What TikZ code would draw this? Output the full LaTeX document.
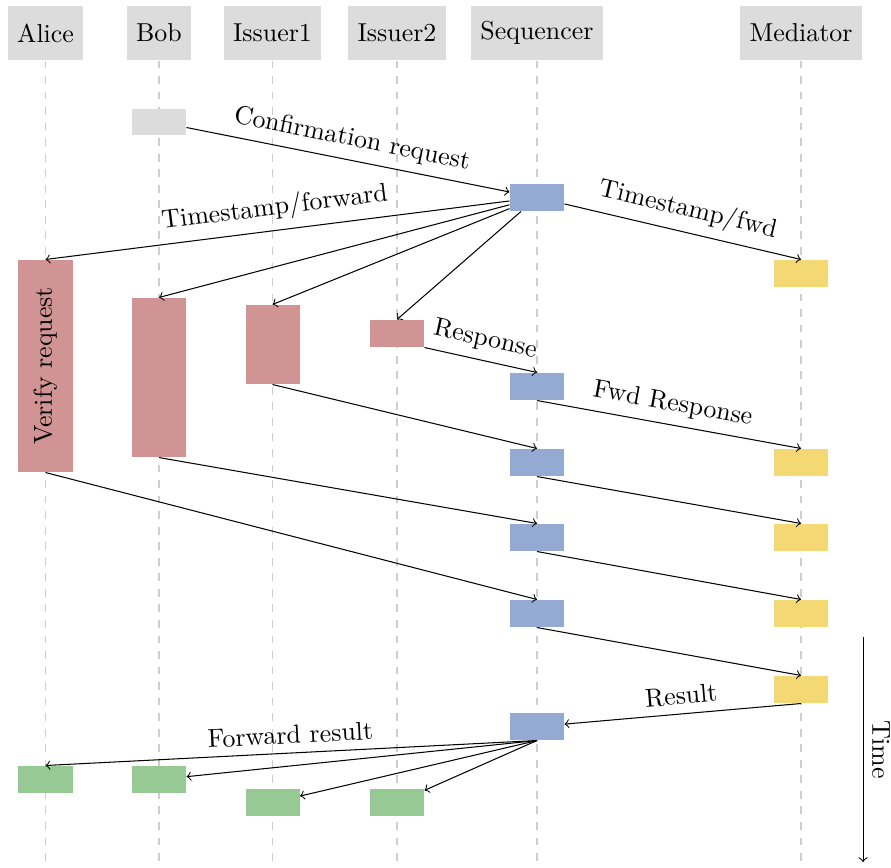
\documentclass[tikz,border=0pt]{standalone}
\definecolor{hdr}{RGB}{220,220,220}
\definecolor{cblue}{RGB}{149,170,210}
\definecolor{cred}{RGB}{209,148,148}
\definecolor{cyel}{RGB}{243,216,115}
\definecolor{cgrn}{RGB}{150,201,148}
\definecolor{lgray}{RGB}{205,205,205}
\begin{document}
\begin{tikzpicture}[x=0.3861pt,y=-0.3861pt,
  hdrbox/.style={fill=hdr, minimum height=20.85pt, inner xsep=3.7pt, inner ysep=0pt},
  lifeline/.style={draw=lgray, dashed, line width=0.55pt},
  act/.style={minimum width=20.85pt, minimum height=10.42pt, inner sep=0pt},
  gbox/.style={act, fill=hdr},
  sbox/.style={act, fill=cblue},
  rbox/.style={act, fill=cred},
  mbox/.style={act, fill=cyel},
  gnbox/.style={act, fill=cgrn},
  msg/.style={draw, ->},
  lbl/.style={above, sloped}
]
\useasboundingbox (0,0) rectangle (891,867);

% headers
\node[hdrbox] (hA) at (45.5,33) {Alice};
\node[hdrbox] (hB) at (159,33) {Bob};
\node[hdrbox] (hI) at (272.5,33) {Issuer1};
\node[hdrbox] (hJ) at (397,33) {Issuer2};
\node[hdrbox] (hS) at (537,33) {Sequencer};
\node[hdrbox] (hM) at (801,33) {Mediator};

% lifelines
\coordinate (bottom) at (0,867);
\foreach \n in {A,B,I,J,S,M}
  \draw[lifeline] (h\n.south) -- (h\n.south |- bottom);

% activation boxes
\node[gbox] (b0) at (159,122) {};
\node[sbox] (s1) at (537,197.5) {};
\node[mbox] (m1) at (801,273.5) {};
\node[rbox, minimum height=81.85pt] (ra) at (45.5,366) {};
\node[rotate=90] (vr) at (ra.center) {Verify request};
\node[rbox, minimum height=61.4pt] (rb) at (159,377.5) {};
\node[rbox, minimum height=30.5pt] (ri) at (272.5,344.5) {};
\node[rbox] (rj) at (397,333.5) {};
\node[sbox] (s2) at (537,386.5) {};
\node[mbox] (m2) at (801,462.5) {};
\node[sbox] (s3) at (537,462.5) {};
\node[sbox] (s4) at (537,537.5) {};
\node[mbox] (m3) at (801,537.5) {};
\node[sbox] (s5) at (537,613.5) {};
\node[mbox] (m4) at (801,613.5) {};
\node[mbox] (m5) at (801,689.5) {};
\node[sbox] (s6) at (537,726.5) {};
\node[gnbox] (ga) at (45.5,779.5) {};
\node[gnbox] (gb) at (159,779.5) {};
\node[gnbox] (gi) at (272.5,802.5) {};
\node[gnbox] (gj) at (397,802.5) {};

% messages
\draw[msg] (b0) -- node[lbl]{Confirmation request} (s1);
\draw[msg] (s1) -- node[lbl]{Timestamp/forward} (ra.north);
\draw[msg] (s1) -- (rb.north);
\draw[msg] (s1) -- (ri.north);
\draw[msg] (s1) -- (rj.north);
\draw[msg] (s1) -- node[lbl]{Timestamp/fwd} (m1.north);
\draw[msg] (rj.south east) -- node[lbl]{Response} (s2.north);
\draw[msg] (s2.south) -- node[lbl]{Fwd Response} (m2.north);
\draw[msg] (ri.south) -- (s3.north);
\draw[msg] (s3.south) -- (m3.north);
\draw[msg] (rb.south) -- (s4.north);
\draw[msg] (s4.south) -- (m4.north);
\draw[msg] (ra.south) -- (s5.north);
\draw[msg] (s5.south) -- (m5.north);
\draw[msg] (m5.south) -- node[lbl]{Result} (s6);
\draw[msg] (s6.south) -- node[lbl]{Forward result} (ga.north);
\draw[msg] (s6.south) -- (gb);
\draw[msg] (s6.south) -- (gi);
\draw[msg] (s6.south) -- (gj);

% time axis
\coordinate (t0) at (863,637);
\coordinate (t1) at (863,862);
\draw[->] (t0) -- node[midway, rotate=-90, anchor=south] (tl) {Time} (t1);
\end{tikzpicture}
\end{document}
